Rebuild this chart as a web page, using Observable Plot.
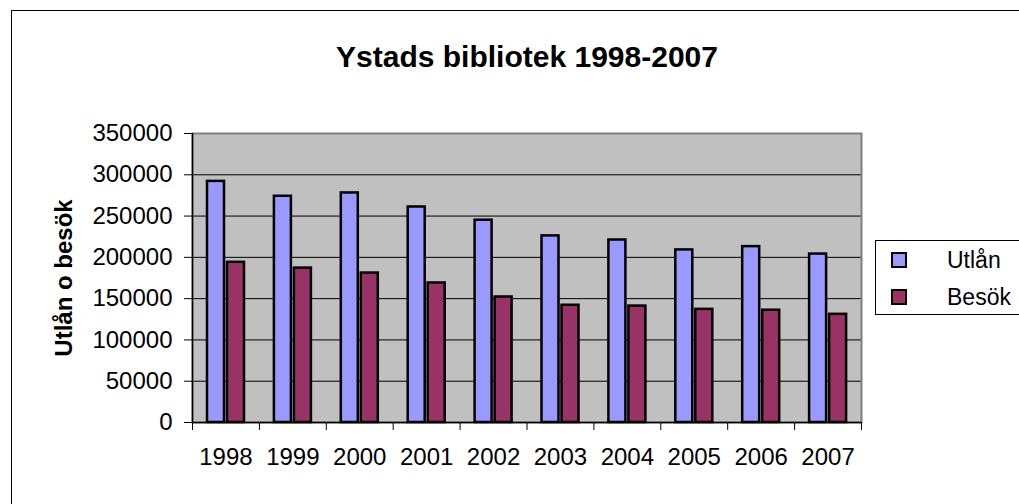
<!DOCTYPE html>
<html>
<head>
<meta charset="utf-8">
<script src="https://cdn.jsdelivr.net/npm/d3@7"></script>
<script src="https://cdn.jsdelivr.net/npm/@observablehq/plot@0.6"></script>
<style>
  html, body { margin: 0; padding: 0; width: 1019px; height: 504px; overflow: hidden; background: white; }
  body { position: relative; font-family: "Liberation Sans", Arial, sans-serif; }
  #outer { position: absolute; left: 11px; top: 10px; width: 1200px; height: 700px; border: 1.5px solid #000; box-sizing: border-box; }
  #chart { position: absolute; left: 0; top: 0; }
  #legend { position: absolute; left: 875px; top: 240px; width: 200px; height: 75px; border: 1px solid #000; background: white; box-sizing: border-box; }
  .sw { position: absolute; left: 15px; width: 12px; height: 12px; border: 2px solid #000; }
  .lt { position: absolute; left: 71px; font-size: 23px; line-height: 23px; color: #000; }
</style>
</head>
<body>
<div id="outer"></div>
<div id="chart"></div>
<div id="legend"></div>
<script>
const title = "Ystads bibliotek 1998-2007";
const yLabel = "Utlån o besök";
const years = ["1998", "1999", "2000", "2001", "2002", "2003", "2004", "2005", "2006", "2007"];
const utlan = [292000, 274000, 278000, 261000, 245000, 226000, 221000, 209000, 213000, 204000];
const besok = [194000, 187000, 181000, 169000, 152000, 142000, 141000, 137000, 136000, 131000];
const seriesNames = ["Utlån", "Besök"];
const seriesColors = ["#9999FF", "#993366"];
const yTicks = [0, 50000, 100000, 150000, 200000, 250000, 300000, 350000];

const rows = years.map((y, i) => ({year: y, i, utlan: utlan[i], besok: besok[i]}));
const boundaries = d3.range(years.length + 1);

const plot = Plot.plot({
  width: 1019,
  height: 504,
  marginLeft: 192,
  marginRight: 158,
  marginTop: 133,
  marginBottom: 82,
  style: {fontFamily: "'Liberation Sans', Arial, sans-serif", fontSize: "24px", background: "transparent", color: "#000"},
  x: {type: "linear", domain: [0, years.length], axis: null},
  y: {domain: [0, 350000], axis: null},
  marks: [
    Plot.frame({fill: "#C0C0C0"}),
    Plot.gridY({ticks: yTicks.filter(t => t > 0 && t < 350000), stroke: "#000", strokeOpacity: 1, strokeWidth: 1}),
    Plot.frame({stroke: "#808080", strokeWidth: 2}),
    Plot.rectY(rows, {x1: d => d.i, x2: d => d.i + 1, y: "utlan", fill: seriesColors[0], stroke: "#000", strokeWidth: 2.5, insetLeft: 15, insetRight: 34.9}),
    Plot.rectY(rows, {x1: d => d.i, x2: d => d.i + 1, y: "besok", fill: seriesColors[1], stroke: "#000", strokeWidth: 2.5, insetLeft: 35, insetRight: 14.9}),
    Plot.ruleX([0], {stroke: "#000", strokeWidth: 1.5}),
    Plot.ruleY([0], {stroke: "#000", strokeWidth: 1.5}),
    Plot.axisY({ticks: yTicks, tickSize: 8, tickPadding: 12, tickFormat: d => String(d), label: null, stroke: "#000", fill: "#000"}),
    Plot.axisX({ticks: boundaries, tickSize: 8, tickFormat: () => "", label: null, stroke: "#000"}),
    Plot.text(years, {x: (d, i) => i + 0.5, text: d => d, frameAnchor: "bottom", lineAnchor: "middle", dy: 35, fill: "#000", fontSize: 24}),
    Plot.text([title], {frameAnchor: "top", lineAnchor: "middle", dy: -76, fontSize: 30, fontWeight: "bold", fill: "#000"}),
    Plot.text([yLabel], {frameAnchor: "left", textAnchor: "middle", rotate: -90, lineAnchor: "middle", dx: -128, fontSize: 24, fontWeight: "bold", fill: "#000"})
  ]
});
document.getElementById("chart").appendChild(plot);

const legend = document.getElementById("legend");
seriesNames.forEach((name, k) => {
  const sw = document.createElement("div");
  sw.className = "sw";
  sw.style.top = (11 + k * 37) + "px";
  sw.style.background = seriesColors[k];
  legend.appendChild(sw);
  const t = document.createElement("div");
  t.className = "lt";
  t.style.top = (8 + k * 37) + "px";
  t.textContent = name;
  legend.appendChild(t);
});
</script>
</body>
</html>
